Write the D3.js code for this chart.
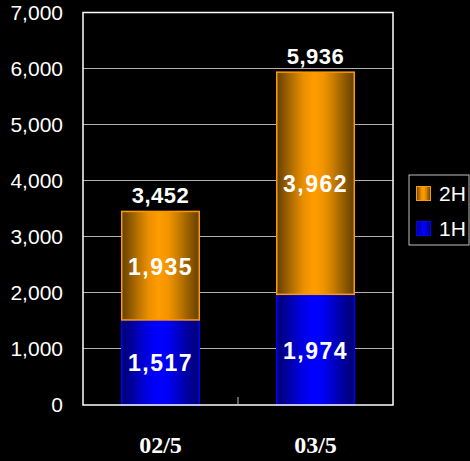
<!DOCTYPE html>
<html><head><meta charset="utf-8">
<script src="https://cdn.jsdelivr.net/npm/d3@7"></script>
<style>body{margin:0;background:#000}svg{display:block}</style>
</head><body>
<script>
const categories = ["02/5", "03/5"];
const series1H = [1517, 1974];
const series2H = [1935, 3962];
const totals = [3452, 5936];
const yTicks = [0, 1000, 2000, 3000, 4000, 5000, 6000, 7000];
const seriesNames = ["2H", "1H"];

const W = 470, H = 461;
const m = {left: 83, right: 393, top: 12.5, bottom: 405};
const svg = d3.select("body").append("svg").attr("width", W).attr("height", H)
  .style("background", "#000");

const defs = svg.append("defs");
function grad(id, stops) {
  const g = defs.append("linearGradient").attr("id", id).attr("x1", "0%").attr("x2", "100%").attr("y1", "0%").attr("y2", "0%");
  stops.forEach(s => g.append("stop").attr("offset", s[0]).attr("stop-color", s[1]));
}
grad("gOrange", [["0%", "#644000"], ["12%", "#945c00"], ["22%", "#bc7400"], ["35%", "#ec9000"], ["48%", "#ff9c00"], ["60%", "#f29400"], ["72%", "#cc7e00"], ["86%", "#965e00"], ["100%", "#644000"]]);
grad("gBlue", [["0%", "#000074"], ["15%", "#0000a4"], ["30%", "#0000dc"], ["45%", "#0000ff"], ["58%", "#0000fa"], ["72%", "#0000cc"], ["86%", "#00009c"], ["100%", "#000074"]]);

const x = d3.scaleBand().domain(categories).range([m.left, m.right]).paddingInner(0.5).paddingOuter(0.25);
const y = d3.scaleLinear().domain([0, 7000]).range([m.bottom, m.top]);

// gridlines
svg.append("g").selectAll("line").data(yTicks.filter(t => t > 0 && t < 7000)).join("line")
  .attr("x1", m.left).attr("x2", m.right).attr("y1", d => y(d)).attr("y2", d => y(d))
  .attr("stroke", "#b0b0b0").attr("stroke-width", 1).attr("shape-rendering", "crispEdges");

// y axis labels
const yAxis = d3.axisLeft(y).tickValues(yTicks).tickFormat(d3.format(",")).tickSize(0).tickPadding(20);
const ya = svg.append("g").attr("transform", `translate(${m.left},0)`).call(yAxis);
ya.select(".domain").remove();
ya.selectAll("text").attr("fill", "#fff").style("font-family", "Liberation Sans, Arial, sans-serif").style("font-size", "21px");

// bars
const data = categories.map((c, i) => ({c, a: series1H[i], b: series2H[i], t: totals[i]}));
const g = svg.append("g");
g.selectAll(".b1").data(data).join("rect")
  .attr("x", d => x(d.c)).attr("width", x.bandwidth())
  .attr("y", d => y(d.a)).attr("height", d => y(0) - y(d.a))
  .attr("fill", "url(#gBlue)").attr("stroke", "#0000ff").attr("stroke-width", 1.5);
g.selectAll(".b2").data(data).join("rect")
  .attr("x", d => x(d.c)).attr("width", x.bandwidth())
  .attr("y", d => y(d.a + d.b)).attr("height", d => y(d.a) - y(d.a + d.b))
  .attr("fill", "url(#gOrange)").attr("stroke", "#ff9900").attr("stroke-width", 1.5);

const lblFont = "Liberation Sans, Arial, sans-serif";
g.selectAll(".l1").data(data).join("text")
  .attr("x", d => x(d.c) + x.bandwidth() / 2).attr("y", d => (y(0) + y(d.a)) / 2 + 9)
  .attr("text-anchor", "middle").attr("fill", "#fff").style("font-family", lblFont)
  .style("font-weight", "bold").style("font-size", "23px").style("letter-spacing", "1.5px")
  .text(d => d3.format(",")(d.a));
g.selectAll(".l2").data(data).join("text")
  .attr("x", d => x(d.c) + x.bandwidth() / 2).attr("y", d => (y(d.a) + y(d.a + d.b)) / 2 + 9)
  .attr("text-anchor", "middle").attr("fill", "#fff").style("font-family", lblFont)
  .style("font-weight", "bold").style("font-size", "23px").style("letter-spacing", "1.5px")
  .text(d => d3.format(",")(d.b));
g.selectAll(".lt").data(data).join("text")
  .attr("x", d => x(d.c) + x.bandwidth() / 2).attr("y", d => y(d.t) - 8)
  .attr("text-anchor", "middle").attr("fill", "#fff").style("font-family", lblFont)
  .style("font-weight", "bold").style("font-size", "22px").style("letter-spacing", "0.5px")
  .text(d => d3.format(",")(d.t));

// frame
svg.append("rect").attr("x", m.left).attr("y", m.top).attr("width", m.right - m.left).attr("height", m.bottom - m.top)
  .attr("fill", "none").attr("stroke", "#fff").attr("stroke-width", 1.5);
// middle tick on x axis
svg.append("line").attr("x1", (m.left + m.right) / 2).attr("x2", (m.left + m.right) / 2)
  .attr("y1", m.bottom).attr("y2", m.bottom - 8).attr("stroke", "#c0c0c0").attr("stroke-width", 1);

// x labels
const xAxis = d3.axisBottom(x).tickSize(0).tickPadding(31);
const xa = svg.append("g").attr("transform", `translate(0,${m.bottom})`).call(xAxis);
xa.select(".domain").remove();
xa.selectAll("text").attr("fill", "#fff").style("font-family", "Liberation Serif, Times New Roman, serif")
  .style("font-weight", "bold").style("font-size", "24px");

// legend
const lg = svg.append("g");
lg.append("rect").attr("x", 409).attr("y", 175).attr("width", 60).attr("height", 70)
  .attr("fill", "#000").attr("stroke", "#c0c0c0").attr("stroke-width", 1);
const fills = ["url(#gOrange)", "url(#gBlue)"];
const strokes = ["#ff9900", "#0000ff"];
seriesNames.forEach((n, i) => {
  lg.append("rect").attr("x", 416.5).attr("y", 186.5 + i * 35).attr("width", 14).attr("height", 14)
    .attr("fill", fills[i]).attr("stroke", strokes[i]).attr("stroke-width", 1);
  lg.append("text").attr("x", 439).attr("y", 201 + i * 35).attr("fill", "#fff")
    .style("font-family", lblFont).style("font-size", "21px").text(n);
});
</script>
</body></html>
